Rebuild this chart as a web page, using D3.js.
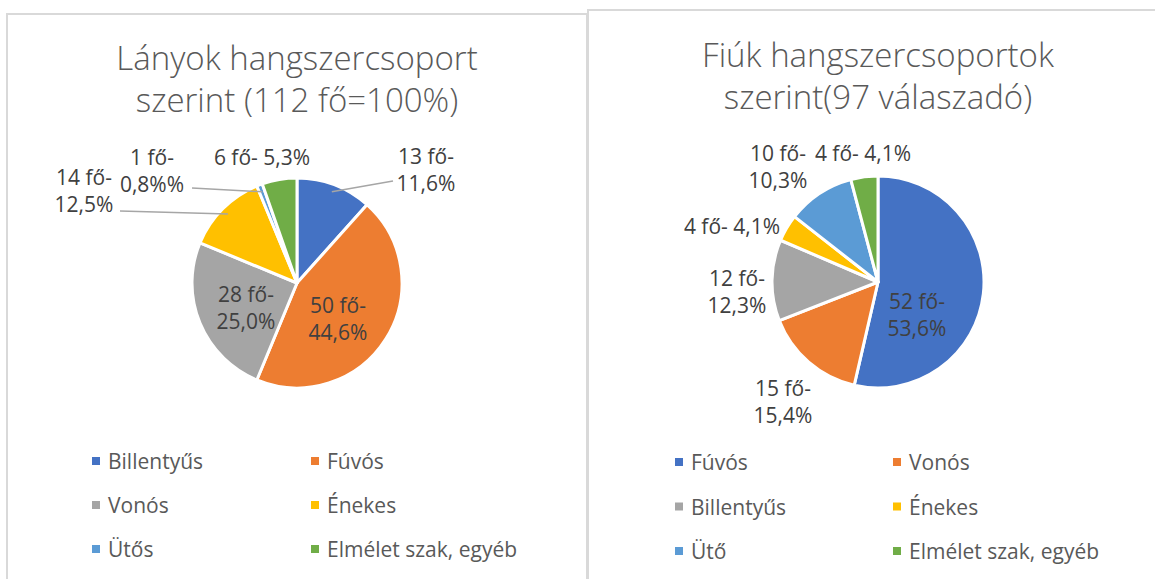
<!DOCTYPE html>
<html>
<head>
<meta charset="utf-8">
<script src="https://cdn.jsdelivr.net/npm/d3@7"></script>
<style>
  body { margin: 0; background: #fff; }
  svg text { font-family: "Open Sans", "Noto Sans", sans-serif; fill: #595959; }
</style>
</head>
<body>
<script>
// Girls chart data
const girlsTitle = ["Lányok hangszercsoport", "szerint (112 fő=100%)"];
const girlsCategories = ["Billentyűs", "Fúvós", "Vonós", "Énekes", "Ütős", "Elmélet szak, egyéb"];
const girlsCounts = [13, 50, 28, 14, 1, 6];
const girlsLabels = [["13 fő-", "11,6%"], ["50 fő-", "44,6%"], ["28 fő-", "25,0%"],
                     ["14 fő-", "12,5%"], ["1 fő-", "0,8%%"], ["6 fő- 5,3%"]];

// Boys chart data
const boysTitle = ["Fiúk hangszercsoportok", "szerint(97 válaszadó)"];
const boysCategories = ["Fúvós", "Vonós", "Billentyűs", "Énekes", "Ütő", "Elmélet szak, egyéb"];
const boysCounts = [52, 15, 12, 4, 10, 4];
const boysLabels = [["52 fő-", "53,6%"], ["15 fő-", "15,4%"], ["12 fő-", "12,3%"],
                    ["4 fő- 4,1%"], ["10 fő-", "10,3%"], ["4 fő- 4,1%"]];

const sliceColors = ["#4472C4", "#ED7D31", "#A5A5A5", "#FFC000", "#5B9BD5", "#70AD47"];

// label placement relative to the pie centre; leader = draw a line to [x, y]
const girlsLayout = [
  { x: 129, y: -114, leader: [96, -102] },
  { x: 41, y: 35 },
  { x: -51, y: 24 },
  { x: -213, y: -93, leader: [-177, -72] },
  { x: -145, y: -113, leader: [-105, -95] },
  { x: -35, y: -126 }
];
const boysLayout = [
  { x: 39, y: 32 },
  { x: -95, y: 119 },
  { x: -141, y: 9 },
  { x: -146, y: -56 },
  { x: -100, y: -116 },
  { x: -15, y: -129 }
];

const W = 1155, H = 579;
const svg = d3.select("body").append("svg")
  .attr("width", W)
  .attr("height", H);

// panel frames
svg.append("rect").attr("x", 7).attr("y", 14).attr("width", 580).attr("height", 600)
  .attr("fill", "#fff").attr("stroke", "#d9d9d9").attr("stroke-width", 2);
svg.append("rect").attr("x", 588).attr("y", 10).attr("width", 600).attr("height", 600)
  .attr("fill", "#fff").attr("stroke", "#d9d9d9").attr("stroke-width", 2);

function drawPie(opts) {
  const g = svg.append("g");
  const R = opts.radius;
  const cx = opts.cx, cy = opts.cy;

  // title
  g.append("text")
    .attr("x", cx).attr("text-anchor", "middle")
    .style("font-size", "33px")
    .style("font-weight", 300)
    .selectAll("tspan")
    .data(opts.title)
    .join("tspan")
    .attr("x", cx)
    .attr("y", (d, i) => opts.titleY + i * 42)
    .text(d => d);

  const pie = d3.pie().sort(null).value(d => d)(opts.counts);
  const arc = d3.arc().innerRadius(0).outerRadius(R);
  const color = d3.scaleOrdinal().domain(opts.categories).range(sliceColors);

  const pg = g.append("g").attr("transform", `translate(${cx},${cy})`);
  pg.selectAll("path")
    .data(pie)
    .join("path")
    .attr("d", arc)
    .attr("fill", (d, i) => color(opts.categories[i]))
    .attr("stroke", "#fff")
    .attr("stroke-width", 3)
    .attr("stroke-linejoin", "round");

  // leader lines
  pie.forEach((d, i) => {
    const lay = opts.layout[i];
    if (!lay.leader) return;
    const a = (d.startAngle + d.endAngle) / 2;
    const p0 = [Math.sin(a) * R * 0.93, -Math.cos(a) * R * 0.93];
    pg.append("polyline")
      .attr("points", [p0, lay.leader].map(p => p.join(",")).join(" "))
      .attr("fill", "none")
      .attr("stroke", "#a6a6a6")
      .attr("stroke-width", 1.5);
  });

  // data labels
  pie.forEach((d, i) => {
    const lay = opts.layout[i];
    const lines = opts.labels[i];
    const lh = 27;
    const y0 = lay.y - (lines.length - 1) * lh / 2;
    pg.append("text")
      .attr("text-anchor", "middle")
      .attr("dominant-baseline", "central")
      .style("font-size", "21px")
      .style("fill", "#404040")
      .selectAll("tspan")
      .data(lines)
      .join("tspan")
      .attr("x", lay.x)
      .attr("y", (t, j) => y0 + j * lh)
      .text(t => t);
  });

  // legend
  const lg = g.append("g");
  opts.categories.forEach((c, i) => {
    const col = i % 2, row = Math.floor(i / 2);
    const x = opts.legendX[col], y = opts.legendY + row * opts.legendStep;
    lg.append("rect")
      .attr("x", x).attr("y", y - 4)
      .attr("width", 8).attr("height", 8)
      .attr("fill", color(c));
    lg.append("text")
      .attr("x", x + 16).attr("y", y)
      .attr("dominant-baseline", "central")
      .style("font-size", "21px")
      .text(c);
  });
}

drawPie({
  title: girlsTitle, categories: girlsCategories, counts: girlsCounts,
  labels: girlsLabels, layout: girlsLayout,
  cx: 297, cy: 283, radius: 105, titleY: 70,
  legendX: [92, 311], legendY: 461, legendStep: 44
});

drawPie({
  title: boysTitle, categories: boysCategories, counts: boysCounts,
  labels: boysLabels, layout: boysLayout,
  cx: 878, cy: 282, radius: 106, titleY: 67,
  legendX: [675, 893], legendY: 462, legendStep: 44.5
});
</script>
</body>
</html>
